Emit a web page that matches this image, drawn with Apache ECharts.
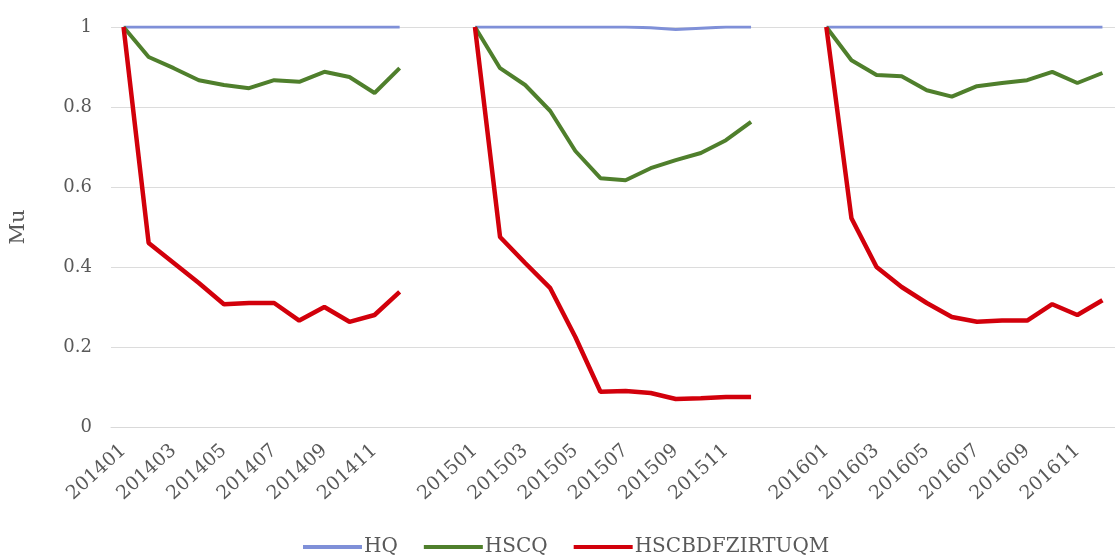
<!DOCTYPE html>
<html>
<head>
<meta charset="utf-8">
<script src="https://cdn.jsdelivr.net/npm/echarts@6/dist/echarts.min.js"></script>
<style>
  html, body { margin: 0; padding: 0; background: #ffffff; }
  #chart { width: 1115px; height: 558px; }
</style>
</head>
<body>
<div id="chart"></div>
<script>
// Monthly periods, one block per year
const years = ['2014', '2015', '2016'];
const months = ['01','02','03','04','05','06','07','08','09','10','11','12'];
const gapSize = 2; // empty slots between yearly blocks

// HQ
const hq2014 = [1, 1, 1, 1, 1, 1, 1, 1, 1, 1, 1, 1];
const hq2015 = [1, 1, 1, 1, 1, 1, 1, 0.998, 0.994, 0.997, 1, 1];
const hq2016 = [1, 1, 1, 1, 1, 1, 1, 1, 1, 1, 1, 1];

// HSCQ
const hscq2014 = [1, 0.925, 0.897, 0.867, 0.855, 0.847, 0.867, 0.863, 0.888, 0.875, 0.835, 0.897];
const hscq2015 = [1, 0.897, 0.855, 0.79, 0.69, 0.622, 0.617, 0.647, 0.667, 0.685, 0.717, 0.763];
const hscq2016 = [1, 0.917, 0.88, 0.877, 0.842, 0.826, 0.852, 0.86, 0.867, 0.888, 0.86, 0.885];

// HSCBDFZIRTUQM
const red2014 = [1, 0.46, 0.41, 0.36, 0.307, 0.31, 0.31, 0.266, 0.30, 0.263, 0.28, 0.338];
const red2015 = [1, 0.475, 0.41, 0.347, 0.225, 0.088, 0.09, 0.085, 0.07, 0.072, 0.075, 0.075];
const red2016 = [1, 0.522, 0.40, 0.35, 0.31, 0.275, 0.263, 0.266, 0.266, 0.307, 0.28, 0.317];

const yTicks = [0, 0.2, 0.4, 0.6, 0.8, 1];

// Build the category axis with blank slots between years
const categories = [];
years.forEach((y, k) => {
  months.forEach(m => categories.push(y + m));
  if (k < years.length - 1) for (let g = 0; g < gapSize; g++) categories.push('');
});

function joinYears(blocks) {
  const out = [];
  blocks.forEach((b, k) => {
    b.forEach(v => out.push(v));
    if (k < blocks.length - 1) for (let g = 0; g < gapSize; g++) out.push(null);
  });
  return out;
}

const font = '"DejaVu Serif", "Liberation Serif", serif';
const textColor = '#595959';

const chart = echarts.init(document.getElementById('chart'), null, { renderer: 'canvas' });
chart.setOption({
  animation: false,
  backgroundColor: '#ffffff',
  grid: { left: 107, top: 27, width: 1014, height: 400, containLabel: false },
  legend: {
    left: 303,
    top: 537,
    icon: 'rect',
    itemWidth: 59,
    itemHeight: 4,
    itemGap: 26,
    padding: 0,
    textStyle: { fontFamily: font, fontSize: 20, color: textColor, padding: [0, 0, 0, -3] },
    data: ['HQ', 'HSCQ', 'HSCBDFZIRTUQM']
  },
  xAxis: {
    type: 'category',
    data: categories,
    boundaryGap: true,
    axisLine: { show: true, lineStyle: { color: '#d9d9d9', width: 1 } },
    axisTick: { show: false },
    axisLabel: {
      interval: 1,
      rotate: 42,
      margin: 21,
      fontFamily: font,
      fontSize: 19,
      color: textColor
    }
  },
  yAxis: {
    type: 'value',
    min: yTicks[0],
    max: yTicks[yTicks.length - 1],
    interval: 0.2,
    name: 'Mu',
    nameLocation: 'middle',
    nameGap: 82,
    nameRotate: 90,
    nameTextStyle: { fontFamily: font, fontSize: 21, color: textColor },
    axisLine: { show: false },
    axisTick: { show: false },
    splitLine: { lineStyle: { color: '#dcdcdc', width: 1 } },
    axisLabel: {
      margin: 19,
      fontFamily: font,
      fontSize: 18,
      color: textColor,
      formatter: v => String(Math.round(v * 10) / 10)
    }
  },
  series: [
    {
      name: 'HQ', type: 'line', data: joinYears([hq2014, hq2015, hq2016]),
      showSymbol: false, connectNulls: false,
      color: '#7f90d8',
      lineStyle: { width: 3, color: '#7f90d8' }
    },
    {
      name: 'HSCQ', type: 'line', data: joinYears([hscq2014, hscq2015, hscq2016]),
      showSymbol: false, connectNulls: false,
      color: '#4f7f2c',
      lineStyle: { width: 4, color: '#4f7f2c' }
    },
    {
      name: 'HSCBDFZIRTUQM', type: 'line', data: joinYears([red2014, red2015, red2016]),
      showSymbol: false, connectNulls: false,
      color: '#d2000b',
      lineStyle: { width: 4.5, color: '#d2000b' }
    }
  ]
});
</script>
</body>
</html>
